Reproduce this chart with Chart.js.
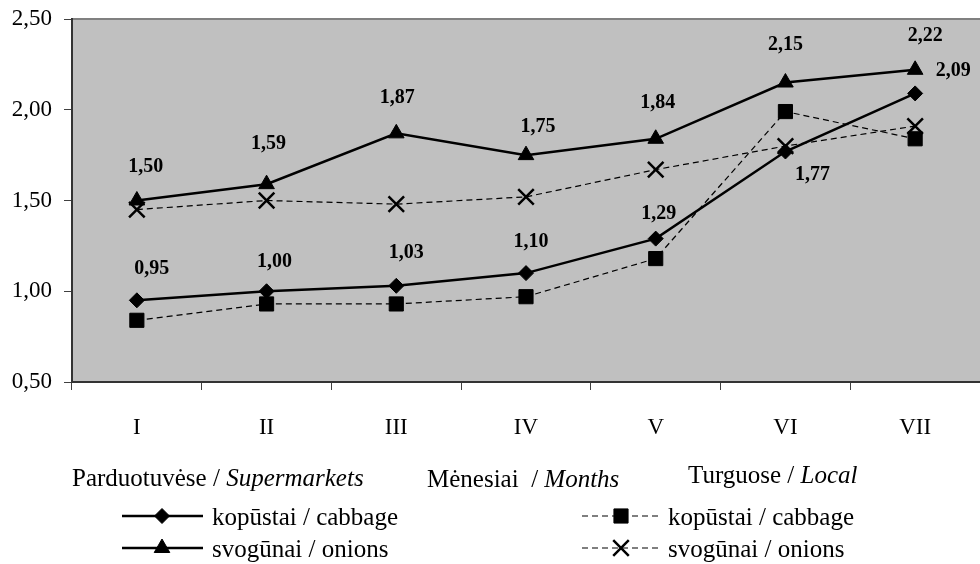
<!DOCTYPE html>
<html><head><meta charset="utf-8">
<script src="https://cdn.jsdelivr.net/npm/chart.js@4"></script>
<style>html,body{margin:0;padding:0;background:#fff;overflow:hidden;}canvas{display:block;}</style>
</head><body>
<canvas id="c" width="980" height="564"></canvas>
<script>
// ---- data ----
const months = ['I','II','III','IV','V','VI','VII'];
const yTicks = [0.5, 1.0, 1.5, 2.0, 2.5];
const superCabbage = [0.95, 1.00, 1.03, 1.10, 1.29, 1.77, 2.09];
const superOnions  = [1.50, 1.59, 1.87, 1.75, 1.84, 2.15, 2.22];
const localCabbage = [0.84, 0.93, 0.93, 0.97, 1.18, 1.99, 1.84];
const localOnions  = [1.45, 1.50, 1.48, 1.52, 1.67, 1.80, 1.91];
const seriesNames  = ['kopūstai / cabbage', 'svogūnai / onions', 'kopūstai / cabbage', 'svogūnai / onions'];
const groupSuper = ['Parduotuvėse / ', 'Supermarkets'];
const groupLocal = ['Turguose / ', 'Local'];
const axisTitle  = ['Mėnesiai  / ', 'Months'];

const fmt = v => v.toFixed(2).replace('.', ',');
const SERIF = '"Liberation Serif", "Times New Roman", serif';

// label offsets (style only) for the supermarket series
const labelOffsets = {
  0: [[15,-31],[8,-29],[10,-33],[5,-31],[3,-25],[27,23],[38,-23]],
  1: [[9,-34],[2,-40],[1,-36],[12,-28],[2,-36],[0,-38],[10,-34]]
};

const plotBg = {
  id: 'plotBg',
  beforeDraw(chart) {
    const {ctx, chartArea: a} = chart;
    ctx.save();
    ctx.fillStyle = '#c0c0c0';
    ctx.fillRect(a.left, a.top, a.right - a.left, a.bottom - a.top);
    ctx.strokeStyle = '#808080';
    ctx.lineWidth = 2;
    ctx.beginPath();
    ctx.moveTo(a.left, a.top);
    ctx.lineTo(a.right, a.top);
    ctx.stroke();
    ctx.restore();
  }
};

const dataLabels = {
  id: 'dataLabels',
  afterDatasetsDraw(chart) {
    const ctx = chart.ctx;
    ctx.save();
    ctx.font = 'bold 20px ' + SERIF;
    ctx.fillStyle = '#000';
    ctx.textAlign = 'center';
    ctx.textBaseline = 'middle';
    Object.keys(labelOffsets).forEach(k => {
      const di = +k;
      const meta = chart.getDatasetMeta(di);
      const vals = chart.data.datasets[di].data;
      meta.data.forEach((pt, i) => {
        const off = labelOffsets[k][i];
        ctx.fillText(fmt(vals[i]), pt.x + off[0], pt.y + off[1]);
      });
    });
    ctx.restore();
  }
};

function drawMixed(ctx, parts, x, y) {
  ctx.font = '25px ' + SERIF;
  ctx.fillText(parts[0], x, y);
  const w = ctx.measureText(parts[0]).width;
  ctx.font = 'italic 25px ' + SERIF;
  ctx.fillText(parts[1], x + w, y);
}

const customLegend = {
  id: 'customLegend',
  afterDraw(chart) {
    const ctx = chart.ctx;
    ctx.save();
    ctx.fillStyle = '#000';
    ctx.textAlign = 'left';
    ctx.textBaseline = 'alphabetic';
    drawMixed(ctx, groupSuper, 72, 486);
    drawMixed(ctx, axisTitle, 427, 487);
    drawMixed(ctx, groupLocal, 688, 483);

    const rows = [
      {ds: 0, x0: 122, x1: 203, mx: 162, y: 516, tx: 212, ty: 525},
      {ds: 1, x0: 122, x1: 203, mx: 162, y: 548, tx: 212, ty: 557},
      {ds: 2, x0: 582, x1: 662, mx: 621, y: 516, tx: 668, ty: 525},
      {ds: 3, x0: 582, x1: 662, mx: 621, y: 548, tx: 668, ty: 557}
    ];
    rows.forEach(r => {
      const d = chart.data.datasets[r.ds];
      ctx.save();
      ctx.strokeStyle = '#000';
      ctx.lineWidth = d.borderWidth;
      ctx.setLineDash(d.borderDash || []);
      ctx.beginPath();
      ctx.moveTo(r.x0, r.y);
      ctx.lineTo(r.x1, r.y);
      ctx.stroke();
      ctx.setLineDash([]);
      ctx.fillStyle = '#000';
      ctx.lineWidth = d.pointBorderWidth;
      Chart.helpers.drawPoint(ctx, {pointStyle: d.pointStyle, radius: d.pointRadius, borderWidth: d.pointBorderWidth, rotation: 0}, r.mx, r.y);
      ctx.restore();
      ctx.font = '25px ' + SERIF;
      ctx.fillStyle = '#000';
      ctx.fillText(seriesNames[r.ds], r.tx, r.ty);
    });
    ctx.restore();
  }
};

new Chart(document.getElementById('c'), {
  type: 'line',
  data: {
    labels: months,
    datasets: [
      {label: seriesNames[0], data: superCabbage, borderColor: '#000', backgroundColor: '#000',
       borderWidth: 2.5, pointStyle: 'rectRot', pointRadius: 7.5, pointBorderWidth: 1, tension: 0},
      {label: seriesNames[1], data: superOnions, borderColor: '#000', backgroundColor: '#000',
       borderWidth: 2.5, pointStyle: 'triangle', pointRadius: 9, pointBorderWidth: 1, tension: 0},
      {label: seriesNames[2], data: localCabbage, borderColor: '#000', backgroundColor: '#000',
       borderWidth: 1.2, borderDash: [6, 4], pointStyle: 'rect', pointRadius: 10, pointBorderWidth: 1, tension: 0},
      {label: seriesNames[3], data: localOnions, borderColor: '#000', backgroundColor: '#000',
       borderWidth: 1.2, borderDash: [6, 4], pointStyle: 'crossRot', pointRadius: 11, pointBorderWidth: 2.5, tension: 0}
    ]
  },
  options: {
    responsive: false,
    animation: false,
    devicePixelRatio: 1,
    clip: false,
    layout: {autoPadding: false, padding: {top: 19, right: 0, bottom: 0, left: 0}},
    plugins: {legend: {display: false}, tooltip: {enabled: false}},
    scales: {
      x: {
        offset: true,
        grid: {offset: true, drawOnChartArea: false, drawTicks: true, tickLength: 8, tickColor: '#404040', tickWidth: 1},
        border: {display: true, color: '#333', width: 2},
        ticks: {color: '#000', font: {family: SERIF, size: 23}, padding: 24, maxRotation: 0},
        afterFit(s) { s.height = 182; s.paddingLeft = 0; s.paddingRight = 0; }
      },
      y: {
        min: 0.5, max: 2.5,
        afterBuildTicks(s) { s.ticks = yTicks.map(v => ({value: v})); },
        grid: {drawOnChartArea: false, drawTicks: true, tickLength: 8, tickColor: '#404040', tickWidth: 1},
        border: {display: true, color: '#333', width: 2},
        ticks: {color: '#000', font: {family: SERIF, size: 23}, padding: 12, callback: v => fmt(v)},
        afterFit(s) { s.width = 72; s.paddingTop = 0; s.paddingBottom = 0; }
      }
    }
  },
  plugins: [plotBg, dataLabels, customLegend]
});
</script>
</body></html>
